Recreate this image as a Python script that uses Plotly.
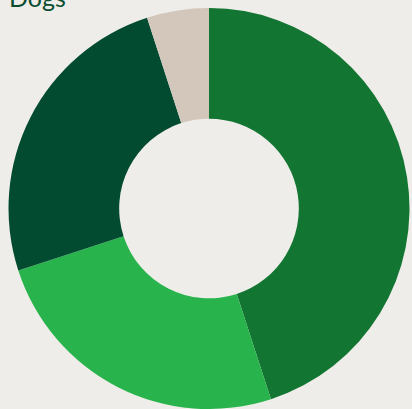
import plotly.graph_objects as go

labels = ["A", "B", "C", "D"]
values = [45, 25, 25, 5]
colors = ["#137532", "#29b34c", "#024b30", "#d3c6ba"]

fig = go.Figure(go.Pie(
    labels=labels, values=values, hole=0.448, sort=False,
    direction="clockwise", rotation=0,
    marker=dict(colors=colors, line=dict(width=0)),
    textinfo="none", hoverinfo="label+percent", showlegend=False,
))
fig.update_layout(
    width=412, height=409,
    margin=dict(l=8, r=2, t=8, b=0),
    paper_bgcolor="#eeede9", plot_bgcolor="#eeede9",
    annotations=[dict(text="Dogs", xref="paper", yref="paper", x=0, y=1.0,
                      xshift=-1, yshift=-6, xanchor="left", yanchor="bottom",
                      showarrow=False,
                      font=dict(family="Lato, sans-serif", size=25, color="#0b4d2f"))],
)
fig.write_html("out.html")
